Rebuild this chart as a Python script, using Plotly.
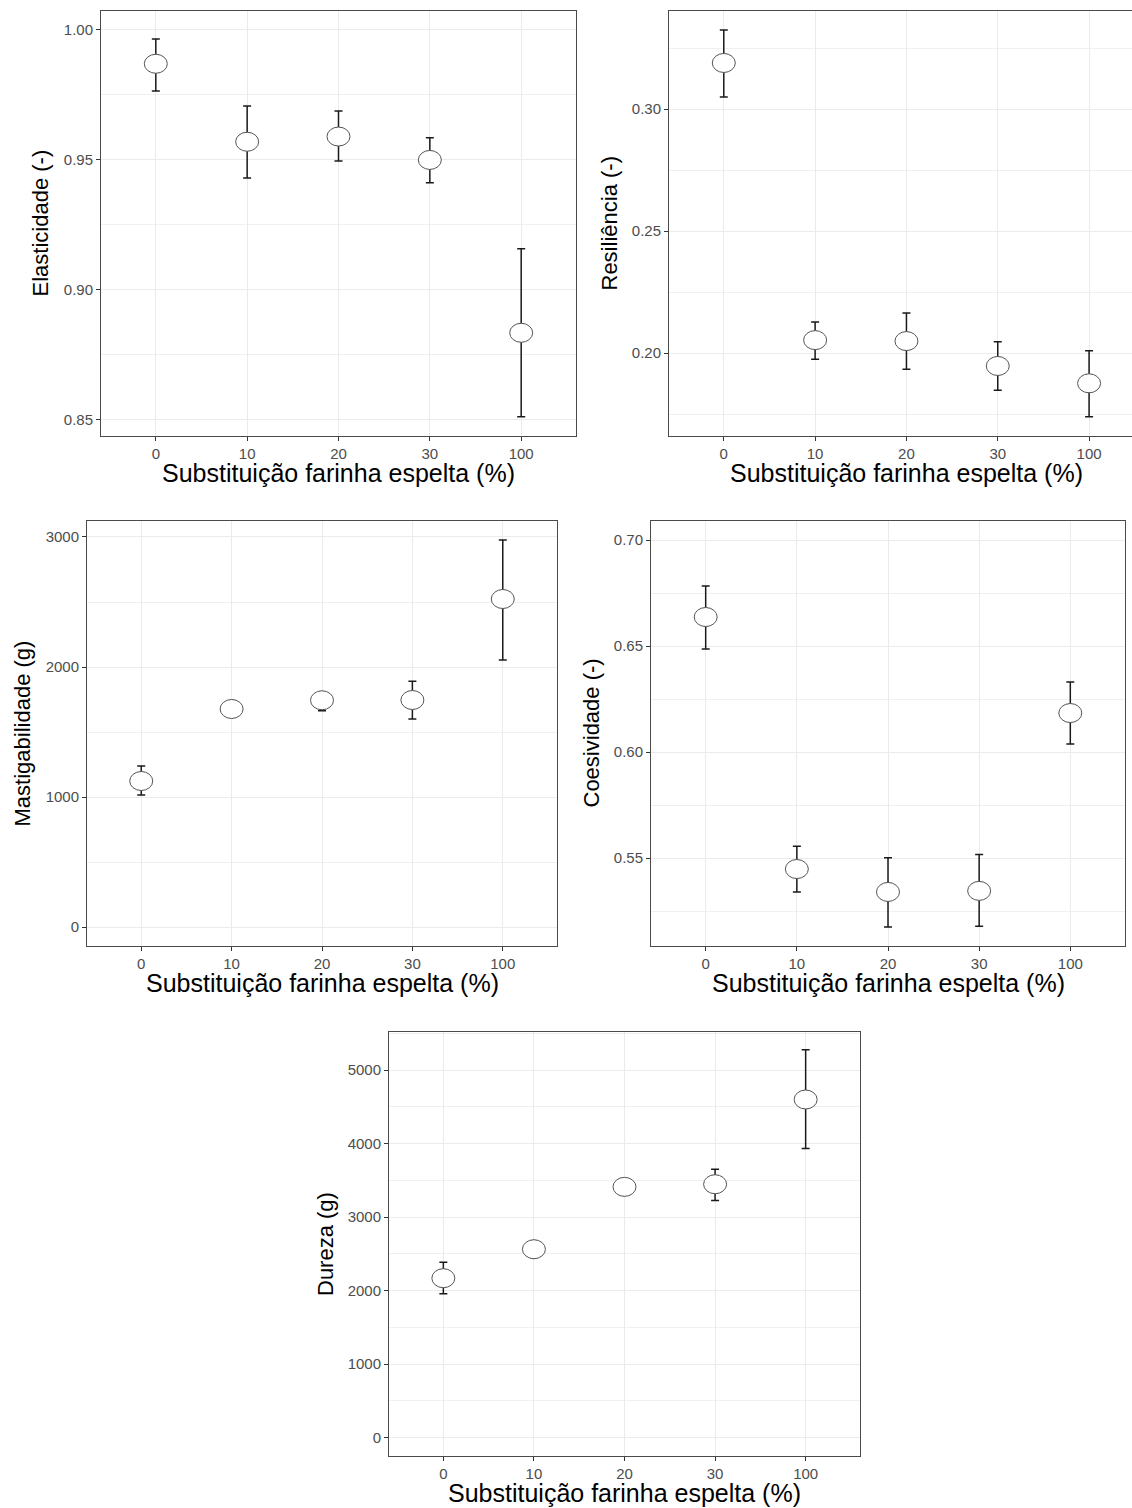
import plotly.graph_objects as go

# Canvas size (px)
W, H = 1132, 1508

# Spelt flour substitution levels (%)
categorias = ["0", "10", "20", "30", "100"]

# Elasticity: mean and error-bar limits
elasticidade = [0.987, 0.957, 0.959, 0.950, 0.8835]
elasticidade_sup = [0.9965, 0.9708, 0.9688, 0.9585, 0.9158]
elasticidade_inf = [0.9765, 0.9431, 0.9496, 0.9412, 0.8512]

# Resilience
resiliencia = [0.3189, 0.2053, 0.2049, 0.1947, 0.1876]
resiliencia_sup = [0.3324, 0.2127, 0.2164, 0.2046, 0.2009]
resiliencia_inf = [0.3049, 0.1975, 0.1934, 0.1848, 0.1739]

# Chewiness (g)
mastigabilidade = [1123, 1677, 1744, 1746, 2523]
mastigabilidade_sup = [1238, 1715, 1810, 1891, 2977]
mastigabilidade_inf = [1015, 1640, 1664, 1600, 2054]

# Cohesiveness
coesividade = [0.6637, 0.5448, 0.5340, 0.5345, 0.6184]
coesividade_sup = [0.6783, 0.5555, 0.5501, 0.5517, 0.6330]
coesividade_inf = [0.6486, 0.5340, 0.5175, 0.5178, 0.6038]

# Hardness (g)
dureza = [2169, 2563, 3411, 3447, 4599]
dureza_sup = [2386, 2620, 3470, 3651, 5275]
dureza_inf = [1959, 2505, 3350, 3224, 3932]

x_titulo = "Substituição farinha espelta (%)"

# Panel definitions: pixel box (left, top, right, bottom), y range, tick step, format
paineis = [
    dict(media=elasticidade, sup=elasticidade_sup, inf=elasticidade_inf,
         caixa=(101, 11, 576, 436), xr=[-0.6, 4.6], yr=[0.8438, 1.0073],
         dt=0.05, fmt=".2f", ytit="Elasticidade (-)", ytx=40, espelho=True),
    dict(media=resiliencia, sup=resiliencia_sup, inf=resiliencia_inf,
         caixa=(669, 11, 1132, 436), xr=[-0.6, 4.47], yr=[0.166, 0.3402],
         dt=0.05, fmt=".2f", ytit="Resiliência (-)", ytx=609, espelho=False,
         xtc=906),
    dict(media=mastigabilidade, sup=mastigabilidade_sup, inf=mastigabilidade_inf,
         caixa=(87, 521, 557, 946), xr=[-0.6, 4.6], yr=[-146, 3123],
         dt=1000, fmt="d", ytit="Mastigabilidade (g)", ytx=22, espelho=True),
    dict(media=coesividade, sup=coesividade_sup, inf=coesividade_inf,
         caixa=(651, 521, 1125, 946), xr=[-0.6, 4.6], yr=[0.5085, 0.709],
         dt=0.05, fmt=".2f", ytit="Coesividade (-)", ytx=591, espelho=True),
    dict(media=dureza, sup=dureza_sup, inf=dureza_inf,
         caixa=(389, 1032, 860, 1456), xr=[-0.6, 4.6], yr=[-249, 5517],
         dt=1000, fmt="d", ytit="Dureza (g)", ytx=325, espelho=True),
]

FONTE = "Liberation Sans, Arial, sans-serif"
GRID = "#ebebeb"
BORDA = "#4a4a4a"

fig = go.Figure()
layout = dict(
    width=W, height=H, autosize=False,
    margin=dict(l=0, r=0, t=0, b=0),
    paper_bgcolor="white", plot_bgcolor="white",
    showlegend=False, shapes=[], annotations=[],
)


def px_x(x):
    return x / W


def px_y(y):
    return 1 - y / H


for n, p in enumerate(paineis, start=1):
    suf = "" if n == 1 else str(n)
    xa, ya = "x" + suf, "y" + suf
    l, t, r, b = p["caixa"]

    fig.add_trace(go.Scatter(
        x=categorias, y=p["media"], xaxis=xa, yaxis=ya, mode="markers",
        marker=dict(symbol="circle", size=18, color="white",
                    line=dict(color="#555555", width=1)),
        error_y=dict(type="data", symmetric=False,
                     array=[s - m for s, m in zip(p["sup"], p["media"])],
                     arrayminus=[m - i for m, i in zip(p["media"], p["inf"])],
                     color="#1a1a1a", thickness=1.5, width=4),
        hoverinfo="x+y",
    ))

    # Open ellipse symbols drawn on top of the points
    for i, v in enumerate(p["media"]):
        layout["shapes"].append(dict(
            type="circle", xref=xa, yref=ya, xsizemode="pixel", ysizemode="pixel",
            xanchor=i, yanchor=v, x0=-11.5, x1=11.5, y0=-9.5, y1=9.5,
            fillcolor="white", line=dict(color="#555555", width=1), layer="above",
        ))

    layout["xaxis" + suf] = dict(
        domain=[px_x(l), px_x(r)], anchor=ya, type="category",
        categoryorder="array", categoryarray=categorias, range=p["xr"],
        showgrid=True, gridcolor=GRID, gridwidth=1.1, zeroline=False,
        showline=True, linecolor=BORDA, linewidth=1, mirror=True,
        ticks="outside", ticklen=4, tickcolor="#333333", tickwidth=1,
        tickfont=dict(family=FONTE, size=15, color="#4d4d4d"),
        fixedrange=True,
    )
    layout["yaxis" + suf] = dict(
        domain=[px_y(b), px_y(t)], anchor=xa, range=p["yr"],
        tickmode="linear", tick0=0, dtick=p["dt"], tickformat=p["fmt"],
        showgrid=True, gridcolor=GRID, gridwidth=1.1, zeroline=False,
        minor=dict(dtick=p["dt"] / 2, tick0=0, showgrid=True,
                   gridcolor="#f0f0f0", gridwidth=0.7, ticks=""),
        showline=True, linecolor=BORDA, linewidth=1, mirror=p["espelho"],
        ticks="outside", ticklen=4, tickcolor="#333333", tickwidth=1,
        tickfont=dict(family=FONTE, size=15, color="#4d4d4d"),
        fixedrange=True,
    )

    # Axis titles
    xc = p.get("xtc", (l + r) / 2)
    layout["annotations"].append(dict(
        text=x_titulo, xref="paper", yref="paper", x=px_x(xc), y=px_y(b + 37),
        xanchor="center", yanchor="middle", showarrow=False,
        font=dict(family=FONTE, size=25, color="black"),
    ))
    layout["annotations"].append(dict(
        text=p["ytit"], xref="paper", yref="paper", x=px_x(p["ytx"]),
        y=px_y((t + b) / 2), xanchor="center", yanchor="middle",
        showarrow=False, textangle=-90,
        font=dict(family=FONTE, size=22, color="black"),
    ))

fig.update_layout(**layout)
fig.write_html("out.html")
